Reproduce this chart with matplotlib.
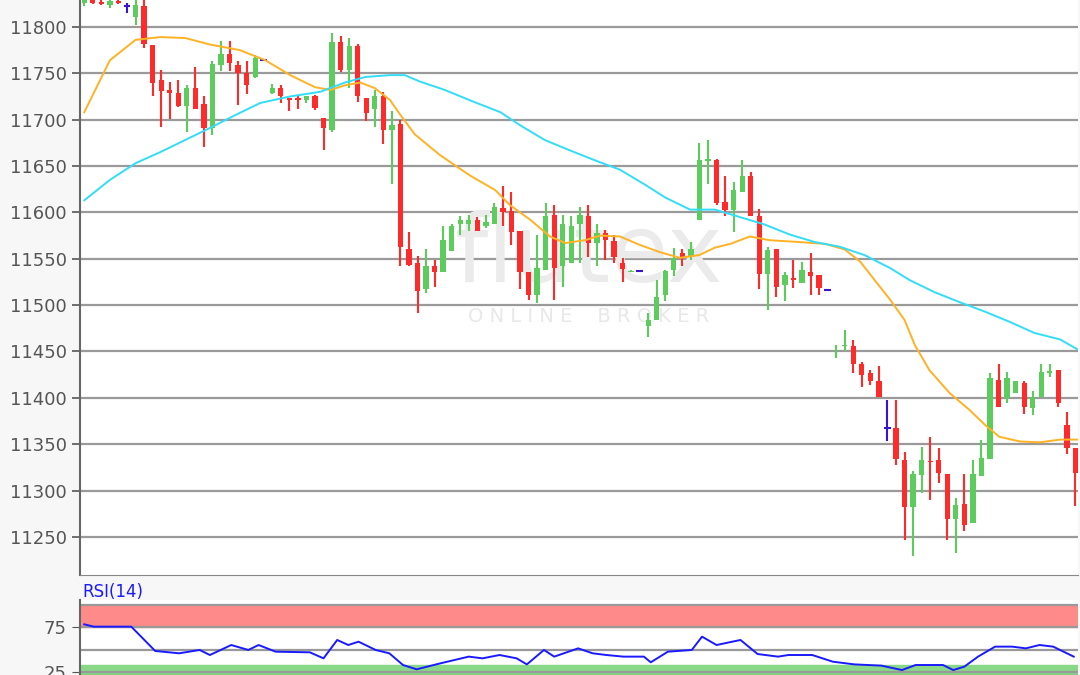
import matplotlib
matplotlib.use("Agg")
import matplotlib.pyplot as plt
import numpy as np

opens = [11826,11829,11827,11824,11828,11822,11811,11822,11781,11743,11732,11729,11715,11734,11717,11691,11759,11771,11759,11750,
         11746,11764,11729,11734,11723,11723,11721,11725,11702,11689,11784,11754,11779,11723,11711,11725,11689,11695,11561,11545,
         11517,11542,11536,11558,11587,11588,11592,11585,11587,11605,11601,11580,11536,11511,11538,11597,11542,11545,11588,11596,
         11567,11578,11569,11545,11536,11537,11477,11484,11511,11538,11556,11552,11592,11655,11657,11611,11603,11622,11639,11596,
         11534,11560,11522,11529,11524,11536,11532,11516,11450,11456,11456,11437,11427,11418,11367,11367,11333,11282,11317,11332,
         11333,11318,11269,11286,11265,11316,11334,11419,11400,11405,11416,11389,11401,11427,11430,11371,11346]
highs = [11830,11831,11830,11830,11831,11826,11829,11829,11781,11753,11741,11743,11737,11757,11725,11763,11785,11785,11763,11763,
         11770,11765,11738,11737,11723,11725,11726,11727,11702,11793,11790,11788,11782,11723,11732,11730,11709,11700,11579,11553,
         11561,11549,11585,11587,11596,11597,11595,11597,11610,11628,11622,11580,11536,11576,11610,11608,11597,11596,11606,11608,
         11587,11581,11576,11551,11538,11537,11491,11527,11538,11562,11561,11568,11675,11678,11658,11639,11633,11657,11644,11604,
         11563,11560,11536,11549,11547,11556,11532,11516,11457,11473,11462,11439,11430,11434,11398,11398,11342,11321,11347,11358,
         11346,11318,11292,11318,11333,11355,11427,11437,11428,11418,11418,11407,11437,11437,11430,11385,11346]
lows = [11822,11825,11824,11820,11825,11815,11802,11777,11725,11692,11701,11714,11687,11712,11671,11683,11752,11752,11716,11728,
        11745,11763,11728,11718,11709,11712,11718,11710,11667,11687,11751,11734,11719,11698,11692,11674,11631,11542,11542,11491,
        11513,11520,11536,11558,11576,11580,11580,11583,11587,11585,11565,11517,11506,11502,11538,11505,11520,11545,11545,11552,
        11542,11549,11545,11525,11536,11537,11466,11484,11504,11531,11542,11549,11592,11631,11608,11596,11579,11622,11596,11517,
        11495,11509,11504,11518,11524,11511,11511,11516,11443,11450,11427,11412,11414,11401,11353,11328,11247,11229,11297,11290,
        11308,11247,11233,11256,11265,11316,11334,11390,11394,11405,11383,11382,11401,11423,11390,11339,11283]
closes = [11829,11826,11825,11828,11826,11822,11824,11782,11739,11731,11729,11715,11734,11712,11691,11760,11771,11761,11750,11737,
          11766,11764,11734,11725,11721,11721,11726,11713,11691,11784,11754,11779,11725,11707,11725,11689,11694,11563,11543,11515,
          11542,11536,11570,11585,11592,11592,11580,11590,11606,11600,11579,11536,11511,11540,11596,11540,11587,11585,11597,11567,
          11578,11570,11552,11539,11537,11537,11484,11509,11537,11551,11552,11561,11657,11658,11610,11603,11624,11639,11596,11534,
          11559,11520,11533,11527,11538,11531,11518,11516,11451,11457,11437,11425,11418,11401,11367,11334,11282,11318,11333,11331,
          11319,11269,11285,11263,11318,11335,11421,11390,11421,11418,11390,11401,11428,11429,11394,11346,11319]

ma_fast_x = [0,3,6,8.9,11.8,14.7,18.2,21.2,24.1,27,28.8,30.5,32.3,34,35.8,37,38.7,41.6,45.1,48.1,49.8,52.2,54.5,56.3,58.6,60.4,
             62.7,65,67.4,69.7,72,73.8,75.6,77.9,80.2,83.7,86.7,89,90.8,92.5,94.3,96,97.2,98.9,101.3,103.6,105.4,107.1,109.5,111.8,114.2,116.3]
ma_fast = [11708,11764,11786,11789,11788,11781,11775,11764,11748,11735,11732,11737,11740,11734,11721,11705,11684,11662,11640,11624,
           11608,11592,11574,11567,11570,11575,11574,11565,11557,11551,11554,11562,11566,11574,11570,11568,11566,11560,11547,11527,
           11506,11484,11457,11430,11405,11387,11371,11358,11353,11352,11355,11355]
ma_slow_x = [0,3,6,8.9,11.8,14.7,17.7,20.6,24.1,27.6,30.5,32.9,35.8,37.5,39.3,42.2,45.1,48.7,51,53.9,56.8,59.8,62.7,65.6,68,70.9,
             73.8,76.7,79.6,82.6,85.5,88.4,91.3,94.3,96.6,99.5,102.5,105.4,108.3,111.2,114.2,116.3]
ma_slow = [11613,11635,11653,11665,11678,11691,11705,11718,11725,11730,11740,11746,11748,11748,11741,11732,11721,11708,11694,11678,
           11667,11656,11646,11630,11616,11603,11603,11595,11587,11576,11568,11563,11554,11540,11527,11514,11503,11493,11482,11470,
           11463,11452]

rsi_x = [0,1.1,5.5,8.3,11.1,13.5,14.7,17.2,19.2,20.4,22.4,26.4,28.0,29.6,30.9,32.1,34.1,35.7,37.3,38.9,41.7,45.0,46.6,48.6,50.6,
         51.8,53.8,55.0,57.8,59.5,61.1,63.1,65.5,66.3,68.3,71.1,72.3,74.0,76.8,78.8,81.2,82.4,85.2,87.6,90.1,93.3,95.7,97.3,100.5,
         101.7,103.0,104.6,106.6,108.6,110.2,111.8,113.4,115.8]
rsi = [78,75.4,75.4,48.4,45.8,49.5,43.9,55,49.5,55,47.6,46.9,40.2,60.6,55,58.7,49.5,45.8,32.8,28,34.7,42.1,40.2,43.9,40.2,
       33.5,49.5,42.1,51.3,45.8,43.9,42.1,42.1,35.8,47.6,49.5,64.3,55,60.6,45,42.1,43.9,43.9,36.5,33.5,32.1,27.2,32.8,32.8,
       27.2,31,42.1,53.2,53.2,51.3,55,53.2,42.1]

price_ticks = [11250, 11300, 11350, 11400, 11450, 11500, 11550, 11600, 11650, 11700, 11750, 11800]

GREEN, RED, BLUE = "#5ccc5c", "#ff2b2b", "#3a12d4"

fig = plt.figure(figsize=(10.8, 6.75), dpi=100, facecolor="#f7f7f7")
ax = fig.add_axes([80/1080, 100/675, 998/1080, 575/675])
ax.set_facecolor("white")
ax.set_ylim(11209, 11829)
ax.set_xlim(-0.5, 116.3)
for t in price_ticks:
    ax.axhline(t, color="#9a9a9a", lw=1.6, zorder=1)

# watermark
ax.text(0.51, 0.555, "flutex", transform=ax.transAxes, fontsize=68, color="#ebebeb",
        ha="center", va="center", zorder=1.5)
ax.text(0.51, 0.45, "O N L I N E    B R O K E R", transform=ax.transAxes, fontsize=14,
        color="#e8e8e8", ha="center", va="center", zorder=1.5)

for i, (o, h, l, c) in enumerate(zip(opens, highs, lows, closes)):
    if c > o:
        col = GREEN
    elif c < o:
        col = RED
    else:
        col = BLUE
    ax.vlines(i, l, h, color=col, lw=1.5, zorder=3)
    if c == o:
        ax.hlines(c, i - 0.4, i + 0.4, color=col, lw=1.5, zorder=3)
    else:
        ax.bar(i, c - o, bottom=o, width=0.62, color=col, edgecolor=col, lw=0, zorder=3)

ax.plot(ma_fast_x, ma_fast, color="#ffb224", lw=1.4, zorder=4)
ax.plot(ma_slow_x, ma_slow, color="#33ddf7", lw=1.4, zorder=4)

ax.set_yticks(price_ticks)
ax.set_xticks([])
ax.tick_params(axis="y", colors="#555555", labelsize=13, length=6, width=1.2, left=True)
for s in ["top", "right"]:
    ax.spines[s].set_visible(False)
ax.spines["left"].set_color("#666666")
ax.spines["left"].set_linewidth(1.5)
ax.spines["bottom"].set_color("#888888")

# RSI panel
rx = fig.add_axes([80/1080, 0, 998/1080, 75/675])
rx.set_facecolor("white")
rx.set_xlim(-0.5, 116.3)
rx.set_ylim(21.7, 105)
rx.axhspan(75, 100, color="#ff8a8a", zorder=1)
rx.axhspan(0, 33, color="#88d888", zorder=1)
for t in [25, 50, 75, 100]:
    rx.axhline(t, color="#999999", lw=1.6, zorder=2)
rx.plot(rsi_x, rsi, color="#1a1aff", lw=1.4, zorder=3)
rx.set_yticks([25, 75])
rx.set_xticks([])
rx.tick_params(axis="y", colors="#555555", labelsize=13, length=6)
for s in ["top", "right"]:
    rx.spines[s].set_visible(False)
rx.spines["left"].set_color("#666666")
rx.spines["left"].set_linewidth(1.5)
fig.text(82/1080, 1 - 592/675, "RSI(14)", color="#1a1aff", fontsize=12, va="center", ha="left")

fig.savefig("out.png", dpi=100, facecolor=fig.get_facecolor())
